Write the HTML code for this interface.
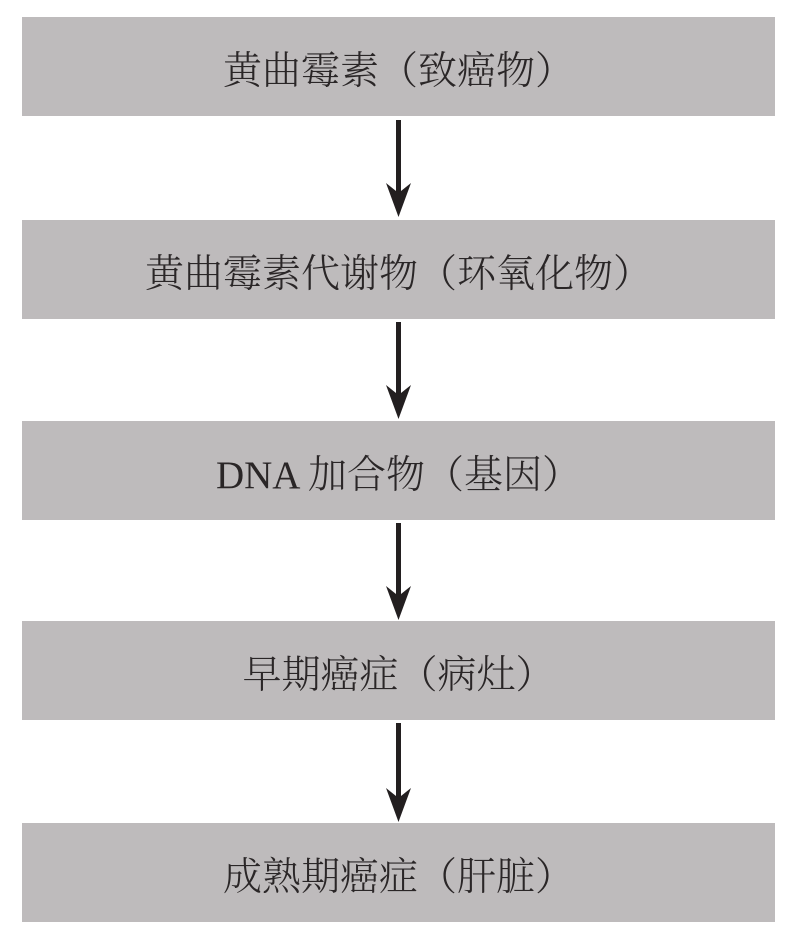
<!DOCTYPE html>
<html><head><meta charset="utf-8"><style>
body{margin:0;width:800px;height:939px;background:#fff;position:relative;overflow:hidden}
.b{position:absolute;left:22px;width:753px;height:99px;background:#bebbbc;display:flex;align-items:center;justify-content:center;font-family:"Liberation Serif","Noto Serif CJK SC",serif;font-size:39px;color:#2a2627;font-weight:300;padding-top:2px;box-sizing:border-box}
svg{position:absolute;left:0;top:0}
</style></head><body>
<div class="b" style="top:17px">黄曲霉素（致癌物）</div>
<div class="b" style="top:220px">黄曲霉素代谢物（环氧化物）</div>
<div class="b" style="top:421px">DNA 加合物（基因）</div>
<div class="b" style="top:621px">早期癌症（病灶）</div>
<div class="b" style="top:823px">成熟期癌症（肝脏）</div>
<svg width="800" height="939">
<g fill="#231f20">
<rect x="396" y="120" width="5" height="80"/><polygon points="386,183 398.5,193 411,183 398.5,217"/>
<rect x="396" y="322" width="5" height="80"/><polygon points="386,385 398.5,395 411,385 398.5,419"/>
<rect x="396" y="523" width="5" height="80"/><polygon points="386,586 398.5,596 411,586 398.5,620"/>
<rect x="396" y="723" width="5" height="82"/><polygon points="386,788 398.5,798 411,788 398.5,822"/>
</g></svg>
</body></html>
